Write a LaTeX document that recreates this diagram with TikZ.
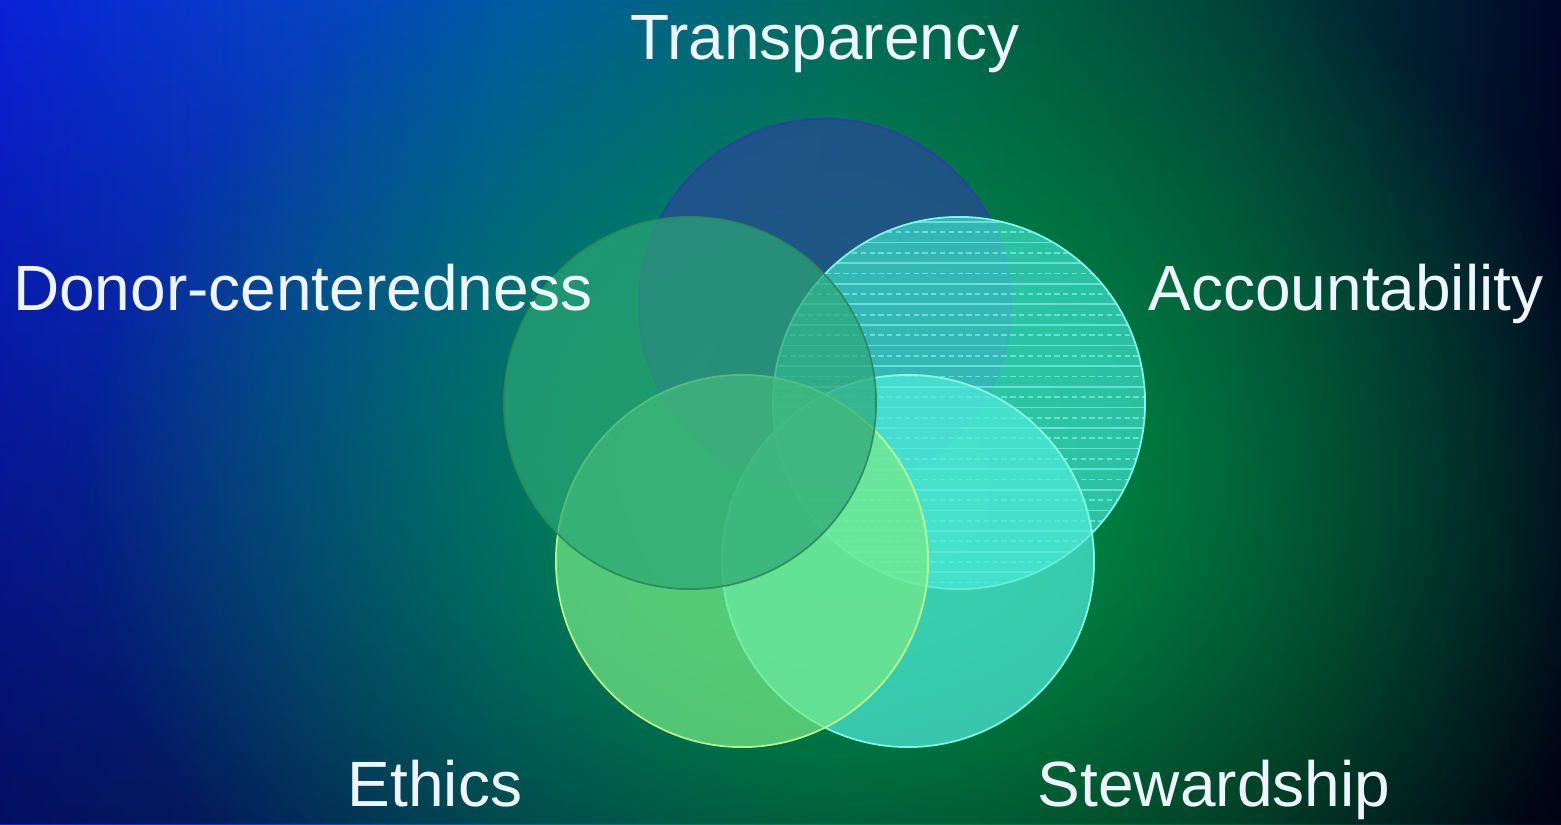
\documentclass[tikz,border=0pt]{standalone}
\usepackage{fontspec}
\setmainfont{Liberation Sans}
\usetikzlibrary{fadings}

\definecolor{bgA}{HTML}{0A22D8}
\definecolor{bgB}{HTML}{0842C4}
\definecolor{bgC}{HTML}{0054AC}
\definecolor{bgD}{HTML}{005890}
\definecolor{bgE}{HTML}{005C60}
\definecolor{bgF}{HTML}{005040}
\definecolor{bgG}{HTML}{003A38}
\definecolor{bgH}{HTML}{001A30}
\definecolor{bgI}{HTML}{000828}
\definecolor{glowgreen}{HTML}{00B050}
\definecolor{labeltext}{HTML}{EEF5FF}
\definecolor{transfill}{HTML}{2B469A}
\definecolor{transline}{HTML}{2A3FA8}
\definecolor{accfill}{HTML}{3FE0CC}
\definecolor{accline}{HTML}{8AFFF5}
\definecolor{stewfill}{HTML}{50ECDC}
\definecolor{stewline}{HTML}{8AFFEA}
\definecolor{ethfill}{HTML}{78EA88}
\definecolor{ethline}{HTML}{C0FF90}
\definecolor{donfill}{HTML}{2CA675}
\definecolor{donline}{HTML}{2A8A5C}
\definecolor{stripecol}{HTML}{90FFF8}

% the box of the path sits between 25bp and 75bp
\pgfdeclarehorizontalshading{bgband}{100bp}{color(0bp)=(bgA); color(25bp)=(bgA);
  color(34.5bp)=(bgB); color(41bp)=(bgC); color(46bp)=(bgD); color(52bp)=(bgE);
  color(58.5bp)=(bgF); color(65bp)=(bgG); color(71.5bp)=(bgH); color(75bp)=(bgI);
  color(100bp)=(bgI)}
\tikzfading[name=glowfade, inner color=transparent!12, outer color=transparent!100]
\tikzfading[name=darkfade, top color=transparent!100, bottom color=transparent!45]

\tikzset{
  venn/.style={circle, inner sep=0pt, minimum size=3.72cm, line width=0.5pt,
    fill opacity=0.7, draw opacity=0.9},
  lbl/.style={anchor=base, text=labeltext, font=\fontsize{18.2}{22}\selectfont},
  stripe/.style={draw=stripecol, line width=0.5pt, draw opacity=0.55},
}

\begin{document}
\begin{tikzpicture}[x=0.01cm, y=0.01cm]
    \useasboundingbox (0,0) rectangle (1561,824);
    \shade[shading=bgband] (0,0) rectangle (1561,824);
    \fill[black, path fading=darkfade] (0,0) rectangle (1561,824);
    \fill[glowgreen, path fading=glowfade] (860,330) ellipse [x radius=780, y radius=620];

    \node[venn, fill=transfill, draw=transline] (trans) at (825,519) {};
    \node[venn, fill=accfill, draw=accline, path picture={
        \foreach \k in {0,...,18} {
            \draw[stripe] ([yshift={-0.05cm-\k*0.206cm}]path picture bounding box.north west) -- ++(372,0);
            \draw[stripe, dash pattern=on 1.5pt off 1pt]
                ([yshift={-0.153cm-\k*0.206cm}]path picture bounding box.north west) -- ++(372,0);
        }}] (account) at (959,421) {};
    \node[venn, fill=stewfill, draw=stewline] (steward) at (908,263) {};
    \node[venn, fill=ethfill, draw=ethline] (ethics) at (742,263) {};
    \node[venn, fill=donfill, draw=donline] (donor) at (690,421) {};

    \node[lbl] (transparency) at (825,764) {Transparency};
    \node[lbl] (donorlbl) at (303,513) {Donor-centeredness};
    \node[lbl] (accountlbl) at (1346,513) {Accountability};
    \node[lbl] (ethicslbl) at (435,18) {Ethics};
    \node[lbl] (stewardlbl) at (1214,18) {Stewardship};
\end{tikzpicture}
\end{document}
